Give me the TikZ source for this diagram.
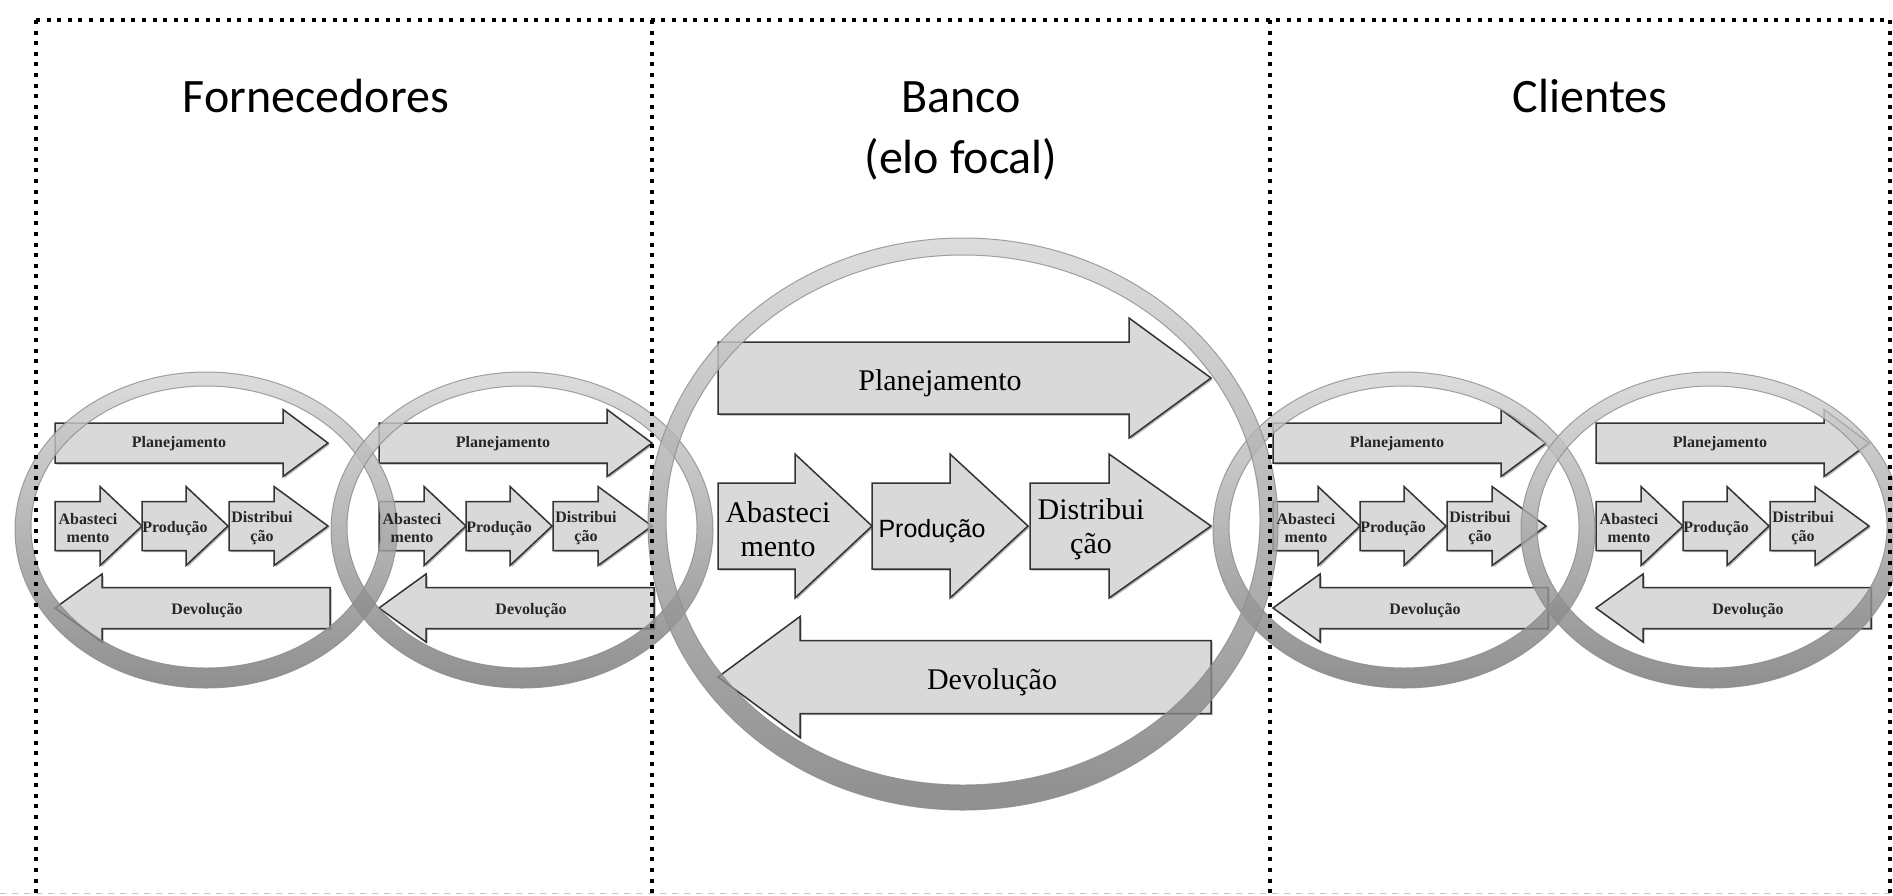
\documentclass[tikz,border=0pt]{standalone}
\usepackage{fontspec}
\setmainfont{Liberation Serif}
\newfontfamily\titlefont{Carlito}
\newfontfamily\arialfont{Liberation Sans}
\usetikzlibrary{shadows}

\definecolor{arrowfill}{HTML}{D9D9D9}
\definecolor{arrowline}{HTML}{333333}
\definecolor{ringtop}{HTML}{D6D6D6}
\definecolor{ringbot}{HTML}{777777}
\definecolor{ringedge}{HTML}{8C8C8C}

\tikzset{
  flowarrow/.style={fill=arrowfill, draw=arrowline, line width=0.75pt, line join=miter,
    drop shadow={shadow xshift=0.8pt, shadow yshift=-0.8pt, opacity=0.3, fill=black}},
  framedots/.style={line width=2pt, dash pattern=on 2pt off 3.3pt},
  titletext/.style={font=\titlefont\fontsize{24}{30}\selectfont, inner sep=0pt},
  bigtext/.style={font=\fontsize{15}{17}\selectfont, align=center, inner sep=0pt},
  bigsans/.style={font=\arialfont\fontsize{12.5}{15}\selectfont, align=center, inner sep=0pt},
  smalltext/.style={font=\bfseries\fontsize{8}{9.4}\selectfont, align=center, inner sep=0pt, text=black!85},
  ringfill/.style={even odd rule, top color=ringtop, bottom color=ringbot, opacity=0.82},
  ringline/.style={draw=ringedge, line width=0.5pt, opacity=0.8},
}

% right-pointing block arrow: left x, tip x, head base x, centre y, body half height, head half height
\newcommand{\rarrow}[6]{%
  \draw[flowarrow] (#1,#4-#5) -- (#3,#4-#5) -- (#3,#4-#6) -- (#2,#4) -- (#3,#4+#6)
    -- (#3,#4+#5) -- (#1,#4+#5) -- cycle;}
% left-pointing block arrow: tip x, right x, head base x, centre y, body half height, head half height
\newcommand{\larrow}[6]{%
  \draw[flowarrow] (#2,#4-#5) -- (#3,#4-#5) -- (#3,#4-#6) -- (#1,#4) -- (#3,#4+#6)
    -- (#3,#4+#5) -- (#2,#4+#5) -- cycle;}
% ring: cx, cy, rx, ry, band x, band y, inner shift up
\newcommand{\ringshape}[7]{%
  \shade[ringfill] (#1,#2) ellipse [x radius=#3, y radius=#4]
    (#1,#2-#7) ellipse [x radius=#3-#5, y radius=#4-#6];
  \draw[ringline] (#1,#2) ellipse [x radius=#3, y radius=#4];
  \draw[ringline] (#1,#2-#7) ellipse [x radius=#3-#5, y radius=#4-#6];}
% small unit arrows (L = left x)
\newcommand{\smallarrows}[1]{%
  \rarrow{#1}{#1+273}{#1+228}{443}{20}{33.5}
  \rarrow{#1}{#1+87}{#1+45}{526}{24.5}{39.5}
  \rarrow{#1+87}{#1+173}{#1+131}{526}{24.5}{39.5}
  \rarrow{#1+174}{#1+273}{#1+219}{526}{24.5}{39.5}
  \larrow{#1}{#1+275}{#1+47}{608}{20.5}{34}}
\newcommand{\smalltexts}[2]{%
  \node[smalltext] (#1plan) at (#2+124,444) {Planejamento};
  \node[smalltext] (#1abas) at (#2+33,528) {Abasteci\\mento};
  \node[smalltext] (#1prod) at (#2+120,529) {Produção};
  \node[smalltext] (#1dist) at (#2+207,528) {Distribui\\ção};
  \node[smalltext] (#1devo) at (#2+152,611) {Devolução};}

\begin{document}
\begin{tikzpicture}[x=0.5pt, y=-0.5pt]
\useasboundingbox (0,0) rectangle (1893,895);
\fill[white] (0,0) rectangle (1893,895);

% titles
\node[titletext, anchor=base] (tforn) at (316,112) {Fornecedores};
\node[titletext, anchor=base] (tbanco) at (961,112) {Banco};
\node[titletext, anchor=base] (tfocal) at (961,173) {(elo focal)};
\node[titletext, anchor=base] (tcli) at (1590,112) {Clientes};

% arrows
\smallarrows{55}
\smallarrows{379}
\smallarrows{1273}
\smallarrows{1596}

\rarrow{718}{1211}{1129}{378}{36}{60}
\rarrow{718}{872}{795}{526}{43}{72}
\rarrow{872}{1028}{950}{526}{43}{72}
\rarrow{1030}{1211}{1109}{526}{43}{72}
\larrow{718}{1211}{800}{677}{36.5}{60.5}

% rings
\ringshape{206}{530}{191}{158}{16}{17}{3}
\ringshape{522}{530}{191}{158}{16}{17}{3}
\ringshape{1404}{530}{191}{158}{16}{17}{3}
\ringshape{1712}{530}{191}{158}{16}{17}{3}
\ringshape{963}{524}{315}{286}{18}{21}{4}

% texts
\smalltexts{fa}{55}
\smalltexts{fb}{379}
\smalltexts{ca}{1273}
\smalltexts{cb}{1596}

\node[bigtext] (bplan) at (940,383) {Planejamento};
\node[bigtext] (babas) at (778,529) {Abasteci\\mento};
\node[bigsans] (bprod) at (932,531) {Produção};
\node[bigtext] (bdist) at (1091,529) {Distribui\\ção};
\node[bigtext] (bdevo) at (992,682) {Devolução};

% frame (on top)
\draw[framedots] (36,20) -- (1890,20);
\draw[framedots] (36,20) -- (36,895);
\draw[framedots] (652,20) -- (652,895);
\draw[framedots] (1270,20) -- (1270,895);
\draw[framedots] (1890,20) -- (1890,895);
\draw[gray!45, dashed, line width=0.5pt] (0,893) -- (1893,893);
\end{tikzpicture}
\end{document}
